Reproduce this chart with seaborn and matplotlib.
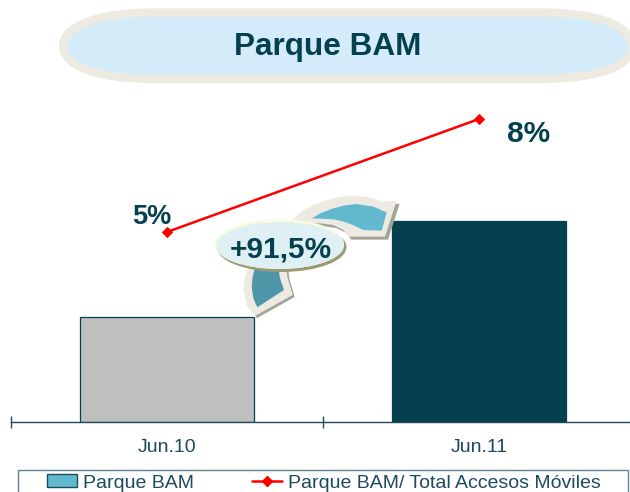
import matplotlib
matplotlib.use('Agg')
import matplotlib.pyplot as plt
import seaborn as sns
from matplotlib.lines import Line2D
from matplotlib.patches import Ellipse, PathPatch, Patch, Polygon, Rectangle
from matplotlib.path import Path

# Data
periods = ['Jun.10', 'Jun.11']
parque_bam = [100, 191.5]
share_pct = [5, 8]
share_labels = ['5%', '8%']
growth_label = '+91,5%'
title_text = 'Parque BAM'
legend_labels = ['Parque BAM', 'Parque BAM/ Total Accesos Móviles']

DARK = '#05404F'
TEXT = '#1D4A5C'
BEIGE = '#EDEBE1'
SHADOW = '#A3A399'

sns.set_theme(style='white')
plt.rcParams['font.family'] = ['Liberation Sans', 'DejaVu Sans']

W, H = 630, 492
fig = plt.figure(figsize=(W / 100, H / 100), dpi=100)
ax = fig.add_axes([11 / W, (H - 422) / H, (W - 11) / W, 332 / H])

# Bars
sns.barplot(x=periods, y=parque_bam, hue=periods, palette=['#BFBFBF', DARK], width=0.555, saturation=1,
            edgecolor=DARK, linewidth=0.9, legend=False, ax=ax)
ax.set_ylim(0, 316.2)
ax.set_yticks([])

# Line on second axis
ax2 = ax.twinx()
sns.lineplot(x=periods, y=share_pct, color='#FF0000', linewidth=1.8, marker='D', markersize=5,
             markeredgecolor='#FF0000', ax=ax2)
ax2.set_ylim(-0.044, 8.77)
ax2.set_yticks([])
ax2.annotate(share_labels[0], (0, share_pct[0]), xytext=(-11, 10.5), textcoords='offset points',
             ha='center', va='center', fontsize=19.5, fontweight='bold', color=DARK)
ax2.annotate(share_labels[1], (1, share_pct[1]), xytext=(36, -10.5), textcoords='offset points',
             ha='center', va='center', fontsize=21.5, fontweight='bold', color=DARK)

ax.set_xticks([0, 1])
ax.set_xticklabels(periods)
ax.tick_params(axis='x', which='major', length=0, pad=12.5, labelsize=14, labelcolor=TEXT)
ax.set_xticks([-0.5, 0.5, 1.5], minor=True)
ax.tick_params(axis='x', which='minor', length=8, width=1, direction='inout', color=TEXT, bottom=True)
ax2.tick_params(axis='x', length=0, labelbottom=False)

# limits last, set_xticks widens them
for a in (ax, ax2):
    a.set_xlim(-0.5, -0.5 + (W - 11) / 312)
    a.set_xlabel('')
    a.set_ylabel('')
    for s in ['top', 'left', 'right']:
        a.spines[s].set_visible(False)
ax2.spines['bottom'].set_visible(False)
ax.spines['bottom'].set_color(TEXT)
ax.spines['bottom'].set_linewidth(1)

# Overlay in pixel coordinates for the decorations
deco = fig.add_axes([0, 0, 1, 1], zorder=5)
deco.set_xlim(0, W)
deco.set_ylim(H, 0)
deco.axis('off')

# Title pill
codes = [Path.MOVETO, Path.LINETO, Path.CURVE4, Path.CURVE4, Path.CURVE4, Path.CURVE4, Path.CURVE4, Path.CURVE4,
         Path.LINETO, Path.CURVE4, Path.CURVE4, Path.CURVE4, Path.CURVE4, Path.CURVE4, Path.CURVE4, Path.CLOSEPOLY]
verts = [(155, 12.5), (540, 12.5), (600, 12.5), (632, 27), (632, 46), (632, 65), (600, 79), (540, 79),
         (155, 79), (95, 79), (63, 65), (63, 46), (63, 27), (95, 12.5), (155, 12.5), (155, 12.5)]
deco.add_patch(PathPatch(Path(verts, codes), facecolor='#D4EBF9', edgecolor=BEIGE, linewidth=6))
deco.text(328, 46.5, title_text, ha='center', va='center', fontsize=22.7, fontweight='bold', color=DARK)


def zoomed(points, dx=0, dy=0):
    return [(200 + x / 3 + dx, 180 + y / 3 + dy) for x, y in points]


# Upper arrow
upper_outer = [(275, 120), (305, 95), (340, 75), (380, 60), (420, 50), (460, 48), (500, 50), (545, 65), (590, 62),
               (555, 170), (445, 170), (430, 150), (400, 135), (360, 130), (320, 130)]
upper_inner = [(335, 115), (365, 98), (400, 85), (435, 76), (470, 72), (520, 80), (560, 97), (545, 152),
               (490, 150), (465, 138), (445, 130), (420, 122), (400, 118)]
deco.add_patch(Polygon(zoomed(upper_outer, 3, 3), closed=True, facecolor=SHADOW, edgecolor='none'))
deco.add_patch(Polygon(zoomed(upper_outer), closed=True, facecolor=BEIGE, edgecolor='none'))
deco.add_patch(Polygon(zoomed(upper_inner), closed=True, facecolor='#62B8CF', edgecolor='none'))

# Lower arrow
lower_outer = [(150, 250), (258, 255), (262, 290), (278, 345), (165, 408), (140, 375), (130, 330), (135, 290)]
lower_inner = [(165, 262), (235, 262), (240, 295), (252, 330), (172, 382), (160, 355), (155, 320), (158, 290)]
deco.add_patch(Polygon(zoomed(lower_outer, 2, 2), closed=True, facecolor=SHADOW, edgecolor='none'))
deco.add_patch(Polygon(zoomed(lower_outer), closed=True, facecolor=BEIGE, edgecolor='none'))
deco.add_patch(Polygon(zoomed(lower_inner), closed=True, facecolor='#4F97A8', edgecolor='none'))

# Growth oval
deco.add_patch(Ellipse((281.5, 247), 130, 50, facecolor='#9C9A70', edgecolor='none'))
deco.add_patch(Ellipse((279, 244), 130, 50, facecolor='#FBFBE3', edgecolor='none'))
deco.add_patch(Ellipse((280, 245.5), 128, 47, facecolor='#DFF0F5', edgecolor='none'))
deco.text(280.5, 250, growth_label, ha='center', va='center', fontsize=21.5, fontweight='bold', color=DARK)

# Legend box runs off the bottom edge
deco.add_patch(Rectangle((18, 470), 610, 30, facecolor='white', edgecolor='#5F8490', linewidth=1))
handles = [Patch(facecolor='#62B8CF', edgecolor=TEXT, linewidth=1),
           Line2D([], [], color='#FF0000', linewidth=1.8, marker='D', markersize=5)]
deco.legend(handles, legend_labels, ncol=2, frameon=False, fontsize=14, labelcolor=TEXT,
            loc='center left', bbox_to_anchor=(47 / W, (H - 483) / H), borderaxespad=0, borderpad=0,
            handlelength=1.55, handletextpad=0.3, columnspacing=3, handleheight=0.6)

fig.savefig('out.png', dpi=100)
